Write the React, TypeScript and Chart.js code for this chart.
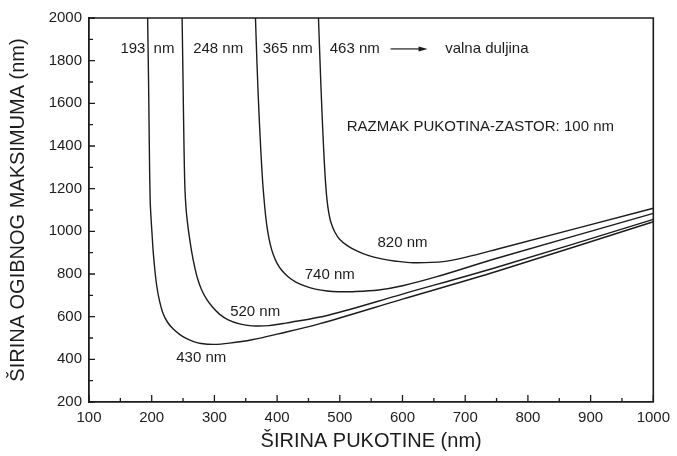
import React, { useEffect, useRef } from "react";
import { Chart, registerables } from "chart.js";

Chart.register(...registerables);

// Wavelengths (nm) – vertical asymptotes of each curve
const wavelengthLabels = ["193 nm", "248 nm", "365 nm", "463 nm"];
// Minimum-width labels for each curve
const minimumLabels = ["430 nm", "520 nm", "740 nm", "820 nm"];

// Curve for 193 nm
const slitWidth193 = [193.5, 195, 196.2, 197.5, 199, 200.5, 202.5, 205, 208, 212, 218, 225, 234, 245, 255, 267, 279, 300, 324, 360, 400, 467, 600, 752, 1000];
const peakWidth193 = [2000, 1700, 1400, 1150, 1060, 990, 900, 820, 745, 680, 616, 575, 543, 516, 498, 483, 474, 470, 476, 492, 518, 566, 682, 814, 1045];

// Curve for 248 nm
const slitWidth248 = [248.5, 250, 251.5, 253, 255, 257.5, 260, 264, 268, 273, 279, 287, 297, 308, 322, 340, 360, 387, 414, 483, 600, 752, 1000];
const peakWidth248 = [2000, 1700, 1400, 1200, 1100, 1030, 975, 900, 840, 780, 730, 685, 645, 612, 585, 566, 557, 558, 570, 608, 706, 833, 1056];

// Curve for 365 nm
const slitWidth365 = [365.5, 368, 371, 374, 377, 379.5, 382, 385, 389, 394, 400, 408, 418, 430, 445, 461, 480, 498, 520, 562, 600, 652, 752, 1000];
const peakWidth365 = [2000, 1780, 1560, 1380, 1230, 1140, 1065, 1000, 940, 890, 850, 815, 786, 762, 743, 729, 720, 717, 717, 725, 745, 785, 875, 1084];

// Curve for 463 nm
const slitWidth463 = [466, 469, 472, 474.5, 477, 479.5, 482.5, 486, 492, 500, 512, 527, 545, 565, 590, 617, 665, 700, 752, 1000];
const peakWidth463 = [2000, 1750, 1530, 1370, 1240, 1150, 1085, 1040, 997, 962, 933, 908, 887, 872, 860, 853, 858, 878, 917, 1108];

const xTitle = "ŠIRINA PUKOTINE (nm)";
const yTitle = "ŠIRINA OGIBNOG MAKSIMUMA (nm)";
const noteText = "RAZMAK PUKOTINA-ZASTOR: 100 nm";
const arrowText = "valna duljina";

const X_MIN = 100, X_MAX = 1000, X_STEP = 100;
const Y_MIN = 200, Y_MAX = 2000, Y_STEP = 200;

const FONT = "'Liberation Sans', Arial, Helvetica, sans-serif";
const INK = "#1c1c1c";

const toPoints = (xs: number[], ys: number[]) => xs.map((x, i) => ({ x, y: ys[i] }));

type Ann = { text: string; x: number; y: number; align: CanvasTextAlign };

const annotations: Ann[] = [
  { text: wavelengthLabels[0].split(" ")[0], x: 190, y: 1855, align: "right" },
  { text: "nm", x: 203, y: 1855, align: "left" },
  { text: wavelengthLabels[1], x: 306, y: 1855, align: "center" },
  { text: wavelengthLabels[2], x: 417, y: 1855, align: "center" },
  { text: wavelengthLabels[3], x: 484, y: 1855, align: "left" },
  { text: arrowText, x: 668, y: 1855, align: "left" },
  { text: noteText, x: 511, y: 1489, align: "left" },
  { text: minimumLabels[3], x: 600, y: 945, align: "center" },
  { text: minimumLabels[2], x: 484, y: 795, align: "center" },
  { text: minimumLabels[1], x: 365, y: 623, align: "center" },
  { text: minimumLabels[0], x: 279, y: 406, align: "center" },
];

const decorPlugin = {
  id: "decor",
  afterDraw(chart: any) {
    const { ctx, chartArea: a, scales } = chart;
    const x = scales.x;
    const y = scales.y;
    ctx.save();
    ctx.strokeStyle = INK;
    ctx.lineCap = "butt";
    // top and right frame
    ctx.lineWidth = 1.6;
    ctx.beginPath();
    ctx.moveTo(a.left, a.top);
    ctx.lineTo(a.right, a.top);
    ctx.lineTo(a.right, a.bottom);
    ctx.stroke();

    // inward tick marks
    ctx.lineWidth = 1.3;
    ctx.beginPath();
    for (let v = X_MIN; v <= X_MAX; v += X_STEP / 2) {
      const px = x.getPixelForValue(v);
      const len = (v - X_MIN) % X_STEP === 0 ? 7 : 4;
      ctx.moveTo(px, a.bottom);
      ctx.lineTo(px, a.bottom - len);
    }
    for (let v = Y_MIN; v <= Y_MAX; v += Y_STEP / 2) {
      const py = y.getPixelForValue(v);
      const len = (v - Y_MIN) % Y_STEP === 0 ? 6 : 4;
      ctx.moveTo(a.left, py);
      ctx.lineTo(a.left + len, py);
    }
    ctx.stroke();

    // text annotations
    ctx.fillStyle = INK;
    ctx.textBaseline = "middle";
    annotations.forEach((an) => {
      ctx.font = `15px ${FONT}`;
      ctx.textAlign = an.align;
      ctx.fillText(an.text, x.getPixelForValue(an.x), y.getPixelForValue(an.y));
    });

    // arrow 463 nm -> valna duljina
    const ay = y.getPixelForValue(1855);
    const ax0 = x.getPixelForValue(581);
    const ax1 = x.getPixelForValue(640);
    ctx.lineWidth = 1.2;
    ctx.beginPath();
    ctx.moveTo(ax0, ay);
    ctx.lineTo(ax1 - 6, ay);
    ctx.stroke();
    ctx.beginPath();
    ctx.moveTo(ax1, ay);
    ctx.lineTo(ax1 - 9, ay - 2.5);
    ctx.lineTo(ax1 - 9, ay + 2.5);
    ctx.closePath();
    ctx.fill();
    ctx.restore();
  },
};

export default function App() {
  const canvasRef = useRef<HTMLCanvasElement | null>(null);

  useEffect(() => {
    if (!canvasRef.current) return;
    const series = [
      toPoints(slitWidth193, peakWidth193),
      toPoints(slitWidth248, peakWidth248),
      toPoints(slitWidth365, peakWidth365),
      toPoints(slitWidth463, peakWidth463),
    ];
    const chart = new Chart(canvasRef.current, {
      type: "scatter",
      data: {
        datasets: series.map((data, i) => ({
          label: wavelengthLabels[i],
          data,
          showLine: true,
          borderColor: INK,
          backgroundColor: INK,
          borderWidth: 1.4,
          pointRadius: 0,
          pointHoverRadius: 0,
          tension: 0.35,
        })),
      },
      options: {
        responsive: false,
        animation: false,
        events: [],
        layout: { padding: { top: 18, right: 21, left: 0, bottom: 0 } },
        plugins: {
          legend: { display: false },
          tooltip: { enabled: false },
        },
        scales: {
          x: {
            type: "linear",
            min: X_MIN,
            max: X_MAX,
            grid: { display: false, drawTicks: false },
            border: { display: true, color: INK, width: 1.8 },
            ticks: {
              stepSize: X_STEP,
              padding: 7,
              color: INK,
              font: { family: FONT, size: 15 },
              maxRotation: 0,
              callback: (v: any) => String(v),
            },
            title: {
              display: true,
              text: xTitle,
              color: INK,
              font: { family: FONT, size: 20 },
              padding: { top: 0, bottom: 3 },
            },
            afterFit: (scale: any) => {
              scale.height = 54;
            },
          },
          y: {
            type: "linear",
            min: Y_MIN,
            max: Y_MAX,
            grid: { display: false, drawTicks: false },
            border: { display: true, color: INK, width: 1.8 },
            ticks: {
              stepSize: Y_STEP,
              padding: 7,
              color: INK,
              font: { family: FONT, size: 15 },
              callback: (v: any) => String(v),
            },
            title: {
              display: true,
              text: yTitle,
              color: INK,
              font: { family: FONT, size: 20 },
              padding: { top: 6, bottom: 0 },
            },
            afterFit: (scale: any) => {
              scale.width = 89;
            },
          },
        },
      },
      plugins: [decorPlugin],
    });
    return () => chart.destroy();
  }, []);

  return (
    <div style={{ position: "absolute", left: 0, top: 0, width: 677, height: 456, background: "#fff" }}>
      <canvas ref={canvasRef} width={677} height={456} style={{ display: "block" }} />
    </div>
  );
}
